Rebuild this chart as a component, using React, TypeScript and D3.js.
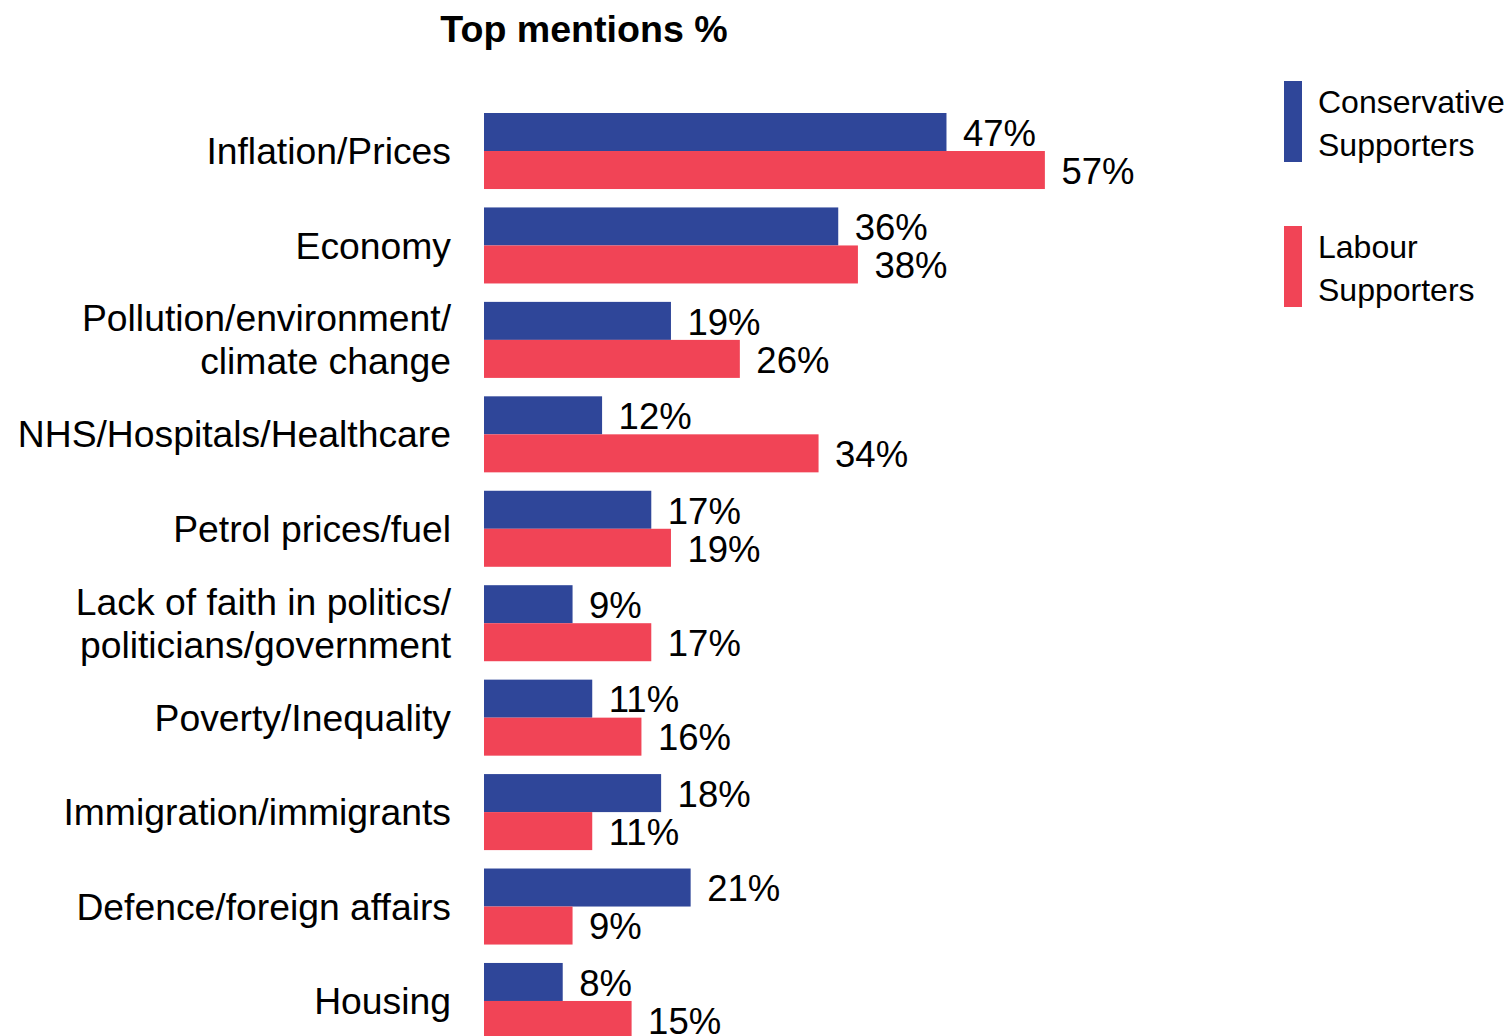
import React from "react";
import * as d3 from "d3";

const categories: string[][] = [
  ["Inflation/Prices"],
  ["Economy"],
  ["Pollution/environment/", "climate change"],
  ["NHS/Hospitals/Healthcare"],
  ["Petrol prices/fuel"],
  ["Lack of faith in politics/", "politicians/government"],
  ["Poverty/Inequality"],
  ["Immigration/immigrants"],
  ["Defence/foreign affairs"],
  ["Housing"],
];
const conservative = [47, 36, 19, 12, 17, 9, 11, 18, 21, 8];
const labour = [57, 38, 26, 34, 19, 17, 16, 11, 9, 15];
const seriesNames = ["Conservative Supporters", "Labour Supporters"];
const colors = ["#2F4699", "#F14456"];

const FONT = "'Liberation Sans', Arial, Helvetica, sans-serif";

export default function App() {
  const W = 1509;
  const H = 1036;
  const keys = categories.map((c) => c.join(" "));
  const step = 94.44;
  const p = 0.195;
  const r0 = 113 - p * step;
  const y = d3
    .scaleBand<string>()
    .domain(keys)
    .range([r0, r0 + step * (keys.length + p)])
    .padding(p);
  const sub = d3
    .scaleBand<string>()
    .domain(["con", "lab"])
    .range([0, y.bandwidth()]);
  const x = d3.scaleLinear().domain([0, 100]).range([484, 484 + 984]);
  const series = [
    { key: "con", values: conservative, color: colors[0] },
    { key: "lab", values: labour, color: colors[1] },
  ];
  const catFs = 37.3;
  const valFs = 36.5;

  return (
    <svg
      width={W}
      height={H}
      style={{ position: "absolute", left: 0, top: 0, background: "#fff" }}
      fontFamily={FONT}
    >
      <rect width={W} height={H} fill="#fff" />
      <text x={584} y={42} textAnchor="middle" fontSize={37.6} fontWeight="bold" fill="#000">
        Top mentions %
      </text>
      {keys.map((k, i) => {
        const y0 = y(k)!;
        const center = y0 + y.bandwidth() / 2;
        const lines = categories[i];
        return (
          <g key={k}>
            {lines.map((ln, j) => (
              <text
                key={j}
                x={451}
                y={center + (j - (lines.length - 1) / 2) * 43}
                dy="0.35em"
                textAnchor="end"
                fontSize={catFs}
                fill="#000"
              >
                {ln}
              </text>
            ))}
            {series.map((s) => {
              const by = y0 + sub(s.key)!;
              const v = s.values[i];
              return (
                <g key={s.key}>
                  <rect
                    x={x(0)}
                    y={by}
                    width={x(v) - x(0)}
                    height={sub.bandwidth()}
                    fill={s.color}
                  />
                  <text
                    x={x(v) + 16.5}
                    y={by + sub.bandwidth() / 2 + 1}
                    dy="0.35em"
                    fontSize={valFs}
                    fill="#000"
                  >
                    {v}%
                  </text>
                </g>
              );
            })}
          </g>
        );
      })}
      {seriesNames.map((name, i) => {
        const top = 81 + i * 145;
        const words = name.split(" ");
        return (
          <g key={name}>
            <rect x={1284} y={top} width={18} height={81} fill={colors[i]} />
            {words.map((w, j) => (
              <text key={j} x={1318} y={top + 21 + j * 43} dy="0.35em" fontSize={32} fill="#000">
                {w}
              </text>
            ))}
          </g>
        );
      })}
    </svg>
  );
}
